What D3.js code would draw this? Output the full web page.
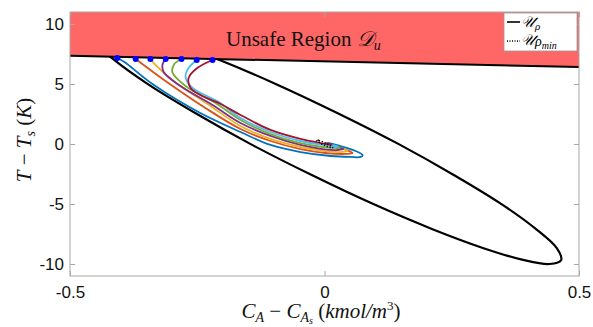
<!DOCTYPE html>
<html>
<head>
<meta charset="utf-8">
<script src="https://cdn.jsdelivr.net/npm/d3@7"></script>
<style>
  html, body { margin: 0; padding: 0; background: #fff; }
  svg { display: block; }
</style>
</head>
<body>
<svg id="chart" width="593" height="327"></svg>
<script>
// ---------------- data ----------------
const xTicks = [-0.5, 0, 0.5];
const yTicks = [-10, -5, 0, 5, 10];
const xTickLabels = ["-0.5", "0", "0.5"];
const yTickLabels = ["-10", "-5", "0", "5", "10"];

// boundary of the unsafe region D_u (x, T)
const unsafeBoundary = [[-0.5, 7.35], [0.5, 6.42]];

// level set U_rho (closed curve)
const ellipseRho = [
  [-0.442, 10.00], [-0.390, 9.66], [-0.311, 8.66], [-0.211, 7.08], [-0.096, 5.01], [0.025, 2.59],
  [0.145, 0.01], [0.254, -2.58], [0.347, -4.99], [0.415, -7.07], [0.456, -8.66], [0.465, -9.66],
  [0.442, -10.00], [0.390, -9.66], [0.311, -8.66], [0.211, -7.08], [0.096, -5.01], [-0.025, -2.59],
  [-0.145, -0.01], [-0.254, 2.58], [-0.347, 4.99], [-0.415, 7.07], [-0.456, 8.66], [-0.465, 9.66]
];

// level set U_rho_min (closed curve)
const ellipseRhoMin = [
  [-0.0155, 0.35], [-0.0109, 0.303], [-0.0034, 0.175], [0.0051, 0.0], [0.0121, -0.175], [0.016, -0.303],
  [0.0155, -0.35], [0.0109, -0.303], [0.0034, -0.175], [-0.0051, 0.0], [-0.0121, 0.175], [-0.016, 0.303]
];

// closed-loop trajectories (x, T)
const trajBlue = [[-0.407,7.17],[-0.393,6.83],[-0.338,5.0],[-0.244,2.58],[-0.165,1.0],[-0.106,-0.08],[-0.047,-0.67],[0.012,-1.0],[0.051,-1.08],[0.071,-1.08],[0.075,-0.92],[0.061,-0.58],[0.031,-0.17],[0.008,0.08],[0,0]];
const trajOrange = [[-0.371,7.08],[-0.358,6.67],[-0.318,5.42],[-0.234,3.0],[-0.165,1.25],[-0.106,0.25],[-0.047,-0.42],[0.002,-0.75],[0.041,-0.83],[0.055,-0.75],[0.043,-0.5],[0.018,-0.17],[0,0]];
const trajYellow = [[-0.342,7.08],[-0.334,6.67],[-0.299,5.33],[-0.224,3.17],[-0.165,1.5],[-0.106,0.42],[-0.047,-0.25],[-0.002,-0.58],[0.031,-0.67],[0.045,-0.58],[0.031,-0.33],[0.010,-0.08],[0,0]];
const trajPurple = [[-0.312,7.08],[-0.318,6.67],[-0.316,6.0],[-0.283,4.83],[-0.220,3.25],[-0.165,1.75],[-0.106,0.67],[-0.047,-0.08],[-0.004,-0.42],[0.026,-0.5],[0.037,-0.42],[0.024,-0.25],[0.006,0],[0,0]];
const trajGreen = [[-0.281,7.08],[-0.295,6.67],[-0.299,6.0],[-0.273,4.83],[-0.214,3.42],[-0.165,2.0],[-0.106,0.83],[-0.047,0.08],[-0.004,-0.25],[0.022,-0.33],[0.031,-0.33],[0.018,-0.17],[0.004,0],[0,0]];
const trajCyan = [[-0.251,7.0],[-0.267,6.33],[-0.273,5.58],[-0.259,4.67],[-0.208,3.5],[-0.165,2.17],[-0.106,1.0],[-0.047,0.25],[-0.004,-0.08],[0.018,-0.21],[0.026,-0.21],[0.014,-0.08],[0.002,0.04],[0,0]];
const trajRed = [[-0.220,7.0],[-0.250,6.33],[-0.267,5.5],[-0.263,4.67],[-0.244,4.08],[-0.204,3.33],[-0.165,2.42],[-0.106,1.17],[-0.047,0.42],[-0.008,0.08],[0.014,-0.08],[0.008,0.04],[0,0]];

const trajectories = [trajBlue, trajOrange, trajYellow, trajPurple, trajGreen, trajCyan, trajRed];
const trajColors = ["#0072BD", "#D95319", "#EDB120", "#7E2F8E", "#77AC30", "#4DBEEE", "#A2142F"];

// ---------------- chart ----------------
const svg = d3.select("#chart");
const L = 70, R = 579, T = 12, B = 276;
const x = d3.scaleLinear().domain([-0.5, 0.5]).range([L, R]);
const y = d3.scaleLinear().domain([-11, 11]).range([B, T]);
const serif = "'Liberation Serif', 'Times New Roman', serif";

svg.append("defs").append("clipPath").attr("id", "plotclip")
  .append("rect").attr("x", L).attr("y", T).attr("width", R - L).attr("height", B - T);

const plot = svg.append("g").attr("clip-path", "url(#plotclip)");

const closedLine = d3.line().x(d => x(d[0])).y(d => y(d[1])).curve(d3.curveCatmullRomClosed.alpha(0.5));
const openLine = d3.line().x(d => x(d[0])).y(d => y(d[1])).curve(d3.curveCatmullRom.alpha(0.5));

// U_rho
plot.append("path").attr("d", closedLine(ellipseRho))
  .attr("fill", "none").attr("stroke", "#000").attr("stroke-width", 2.2);

// unsafe region
const yMax = y.domain()[1];
const unsafePoly = [[unsafeBoundary[0][0], yMax], [unsafeBoundary[1][0], yMax], unsafeBoundary[1], unsafeBoundary[0]];
plot.append("path").attr("d", d3.line().x(d => x(d[0])).y(d => y(d[1]))(unsafePoly) + "Z")
  .attr("fill", "#FF6666").attr("stroke", "none");
plot.append("path").attr("d", d3.line().x(d => x(d[0])).y(d => y(d[1]))(unsafeBoundary))
  .attr("fill", "none").attr("stroke", "#000").attr("stroke-width", 2);

// trajectories
trajectories.forEach((tr, i) => {
  plot.append("path").attr("d", openLine(tr))
    .attr("fill", "none").attr("stroke", trajColors[i]).attr("stroke-width", 1.8)
    .attr("stroke-linejoin", "round");
});

// U_rho_min
plot.append("path").attr("d", closedLine(ellipseRhoMin))
  .attr("fill", "none").attr("stroke", "#000").attr("stroke-width", 1.5)
  .attr("stroke-dasharray", "1.2,1.8");

// starting points
plot.selectAll("circle.start").data(trajectories).join("circle")
  .attr("class", "start")
  .attr("cx", d => x(d[0][0])).attr("cy", d => y(d[0][1]))
  .attr("r", 3).attr("fill", "#0000FF");

// title inside unsafe region
const title = svg.append("text").attr("x", 226).attr("y", 46)
  .attr("text-anchor", "start")
  .attr("font-family", serif)
  .attr("font-size", 21).attr("fill", "#111");
title.append("tspan").text("Unsafe Region ");
title.append("tspan").attr("font-style", "italic").text("𝒟");
title.append("tspan").attr("font-size", 14).attr("font-style", "italic").attr("dy", 4).text("u");

// axes (inward ticks, all sides)
const axisColor = "#a8a8a8";
const gx = svg.append("g").attr("transform", `translate(0,${B})`)
  .call(d3.axisBottom(x).tickValues(xTicks).tickFormat((d, i) => xTickLabels[i]).tickSize(-5).tickPadding(10));
const gxTop = svg.append("g").attr("transform", `translate(0,${T})`)
  .call(d3.axisTop(x).tickValues(xTicks).tickFormat("").tickSize(-5));
const gy = svg.append("g").attr("transform", `translate(${L},0)`)
  .call(d3.axisLeft(y).tickValues(yTicks).tickFormat((d, i) => yTickLabels[i]).tickSize(-5).tickPadding(6));
const gyR = svg.append("g").attr("transform", `translate(${R},0)`)
  .call(d3.axisRight(y).tickValues(yTicks).tickFormat("").tickSize(-5));
[gx, gxTop, gy, gyR].forEach(g => {
  g.select(".domain").remove();
  g.selectAll(".tick line").attr("stroke", axisColor);
  g.selectAll(".tick text").attr("fill", "#111")
    .attr("font-family", "'Liberation Sans', Arial, sans-serif").attr("font-size", 17);
});
svg.append("rect").attr("x", L).attr("y", T).attr("width", R - L).attr("height", B - T)
  .attr("fill", "none").attr("stroke", axisColor).attr("stroke-width", 1);

// legend
const lg = svg.append("g");
lg.append("rect").attr("x", 504).attr("y", 13).attr("width", 73).attr("height", 38)
  .attr("fill", "#fff").attr("stroke", "#999").attr("stroke-width", 0.8);
lg.append("line").attr("x1", 507).attr("x2", 520).attr("y1", 22).attr("y2", 22)
  .attr("stroke", "#000").attr("stroke-width", 1.6);
lg.append("line").attr("x1", 507).attr("x2", 520).attr("y1", 41).attr("y2", 41)
  .attr("stroke", "#000").attr("stroke-width", 1.4).attr("stroke-dasharray", "1,1.5");
const t1 = lg.append("text").attr("x", 521).attr("y", 27)
  .attr("font-family", serif).attr("font-size", 15).attr("font-style", "italic");
t1.append("tspan").text("𝒰");
t1.append("tspan").attr("font-size", 11).attr("dy", 3).text("ρ");
const t2 = lg.append("text").attr("x", 521).attr("y", 45)
  .attr("font-family", serif).attr("font-size", 15).attr("font-style", "italic");
t2.append("tspan").text("𝒰");
t2.append("tspan").attr("font-size", 14).attr("dy", 1).text("ρ");
t2.append("tspan").attr("font-size", 10).attr("dy", 3).text("min");

// axis labels
const xl = svg.append("text").attr("x", 321).attr("y", 318).attr("text-anchor", "middle")
  .attr("font-family", serif).attr("font-size", 21)
  .attr("font-style", "italic").attr("fill", "#111");
xl.append("tspan").text("C");
xl.append("tspan").attr("font-size", 14).attr("dy", 4).text("A");
xl.append("tspan").attr("dy", -4).attr("font-style", "normal").text(" − ");
xl.append("tspan").text("C");
xl.append("tspan").attr("font-size", 14).attr("dy", 4).text("A");
xl.append("tspan").attr("font-size", 10).attr("dy", 2).text("s");
xl.append("tspan").attr("dy", -6).attr("font-style", "normal").text("   (");
xl.append("tspan").text("kmol/m");
xl.append("tspan").attr("font-size", 13).attr("dy", -8).attr("font-style", "normal").text("3");
xl.append("tspan").attr("dy", 8).attr("font-style", "normal").text(")");

const yl = svg.append("text").attr("transform", `translate(31,${(T + B) / 2 - 4}) rotate(-90)`)
  .attr("text-anchor", "middle")
  .attr("font-family", serif).attr("font-size", 21)
  .attr("font-style", "italic").attr("fill", "#111");
yl.append("tspan").text("T");
yl.append("tspan").attr("font-style", "normal").text(" − ");
yl.append("tspan").text("T");
yl.append("tspan").attr("font-size", 14).attr("dy", 4).text("s");
yl.append("tspan").attr("dy", -4).attr("font-style", "normal").text("   (");
yl.append("tspan").text("K");
yl.append("tspan").attr("font-style", "normal").text(")");
</script>
</body>
</html>
